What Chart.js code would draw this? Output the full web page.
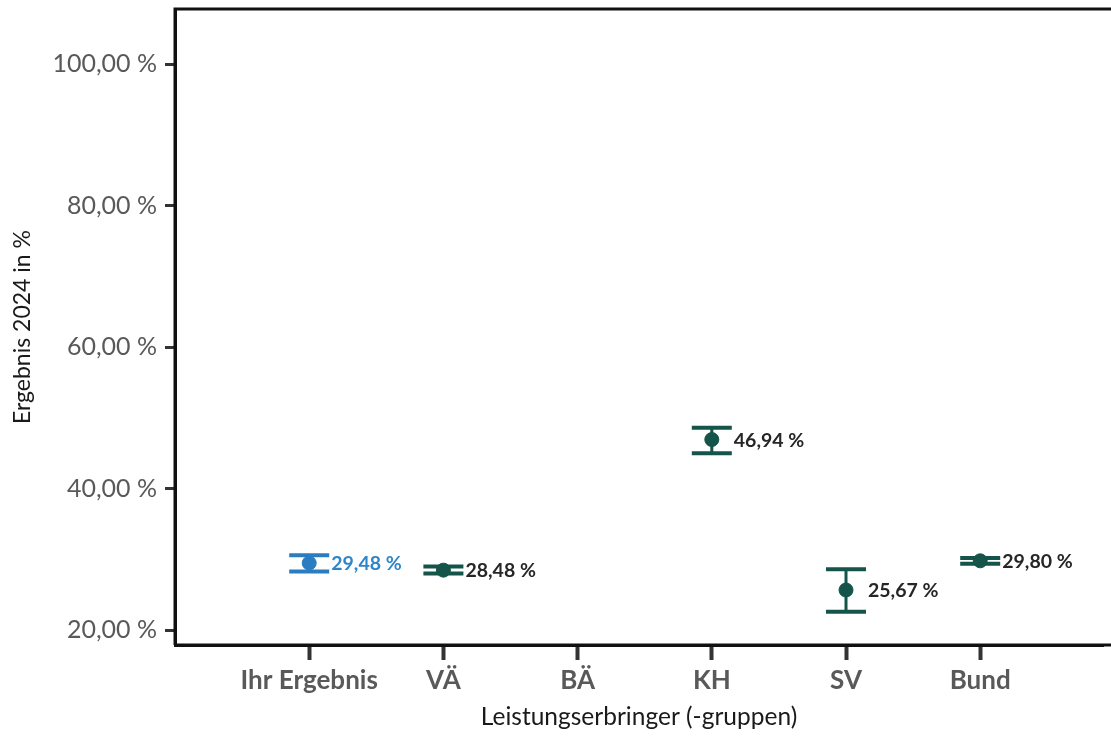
<!DOCTYPE html>
<html>
<head>
<meta charset="utf-8">
<script src="https://cdn.jsdelivr.net/npm/chart.js@4.4.1/dist/chart.umd.min.js"></script>
<style>
    html, body { margin: 0; padding: 0; background: #fff; overflow: hidden; }
    #wrap { width: 1111px; height: 737px; }
</style>
</head>
<body>
<div id="wrap"><canvas id="chart" width="1111" height="737"></canvas></div>
<script>
// Data
const categories = ['Ihr Ergebnis', 'VÄ', 'BÄ', 'KH', 'SV', 'Bund'];
const values = [29.48, 28.48, null, 46.94, 25.67, 29.80];
const lower = [28.3, 28.0, null, 45.0, 22.6, 29.4];
const upper = [30.6, 29.0, null, 48.6, 28.6, 30.2];
const yTicks = [20, 40, 60, 80, 100];

const blue = '#2a7dc0';
const green = '#14544a';
const pointColors = categories.map((c, i) => i === 0 ? blue : green);

// Points on a linear x scale, categories sit at 1..6
const points = values.map((v, i) => ({ x: i + 1, y: v }));

function fmt(v) {
    return v.toFixed(2).replace('.', ',') + ' %';
}

// Error bars (whisker + caps) and value labels, placed through the scales
const errorBars = {
    id: 'errorBars',
    beforeDatasetsDraw(chart) {
        const ctx = chart.ctx;
        const xs = chart.scales.x;
        const ys = chart.scales.y;
        ctx.save();
        values.forEach((v, i) => {
            if (v === null) return;
            const x = xs.getPixelForValue(i + 1);
            const yLo = ys.getPixelForValue(lower[i]);
            const yHi = ys.getPixelForValue(upper[i]);
            ctx.strokeStyle = pointColors[i];
            ctx.lineWidth = 3;
            ctx.beginPath();
            ctx.moveTo(x, yLo);
            ctx.lineTo(x, yHi);
            ctx.stroke();
            ctx.lineWidth = 4;
            ctx.beginPath();
            ctx.moveTo(x - 20, yLo); ctx.lineTo(x + 20, yLo);
            ctx.moveTo(x - 20, yHi); ctx.lineTo(x + 20, yHi);
            ctx.stroke();
        });
        ctx.restore();
    },
    afterDatasetsDraw(chart) {
        const ctx = chart.ctx;
        const xs = chart.scales.x;
        const ys = chart.scales.y;
        ctx.save();
        ctx.font = 'bold 19.5px Lato';
        ctx.textBaseline = 'middle';
        ctx.textAlign = 'left';
        values.forEach((v, i) => {
            if (v === null) return;
            ctx.fillStyle = i === 0 ? '#2e86c8' : '#262626';
            ctx.fillText(fmt(v), xs.getPixelForValue(i + 1) + 22, ys.getPixelForValue(v) + 1);
        });
        ctx.restore();
    }
};

// Frame: left, top and bottom lines running off the right edge
const frame = {
    id: 'frame',
    afterDraw(chart) {
        const a = chart.chartArea;
        const ctx = chart.ctx;
        ctx.save();
        ctx.strokeStyle = '#111';
        ctx.lineWidth = 3;
        ctx.beginPath();
        ctx.moveTo(a.left, a.bottom);
        ctx.lineTo(a.left, a.top);
        ctx.lineTo(chart.width, a.top);
        ctx.moveTo(a.left, a.bottom);
        ctx.lineTo(chart.width, a.bottom);
        ctx.stroke();
        ctx.restore();
    }
};

new Chart(document.getElementById('chart'), {
    type: 'scatter',
    data: {
        datasets: [{
            data: points,
            pointRadius: 7,
            pointHoverRadius: 7,
            pointBackgroundColor: pointColors,
            pointBorderColor: pointColors,
            showLine: false
        }]
    },
    options: {
        responsive: false,
        animation: false,
        layout: { padding: { top: 9, right: 0, bottom: 0, left: 0 } },
        plugins: {
            legend: { display: false },
            tooltip: { enabled: false }
        },
        scales: {
            x: {
                type: 'linear',
                min: 0,
                max: 6.915,
                afterBuildTicks: scale => {
                    scale.ticks = categories.map((c, i) => ({ value: i + 1 }));
                },
                afterFit: scale => {
                    scale.height = 92;
                    scale.paddingLeft = 0;
                    scale.paddingRight = 0;
                },
                ticks: {
                    autoSkip: false,
                    maxRotation: 0,
                    padding: 5,
                    color: '#595959',
                    font: { family: 'Lato', size: 26, weight: 'bold' },
                    callback: v => categories[v - 1] || ''
                },
                grid: {
                    drawOnChartArea: false,
                    drawTicks: true,
                    tickLength: 15,
                    tickWidth: 4,
                    tickColor: '#333'
                },
                border: { color: '#111', width: 3 },
                title: {
                    display: true,
                    text: 'Leistungserbringer (-gruppen)',
                    color: '#1a1a1a',
                    font: { family: 'Lato', size: 24.5 },
                    padding: { top: 0, bottom: 5 }
                }
            },
            y: {
                min: 17.9,
                max: 107.8,
                afterBuildTicks: scale => {
                    scale.ticks = yTicks.map(v => ({ value: v }));
                },
                afterFit: scale => {
                    scale.width = 175;
                    scale.paddingTop = 0;
                    scale.paddingBottom = 0;
                },
                ticks: {
                    padding: 8,
                    color: '#595959',
                    font: { family: 'Lato', size: 25 },
                    callback: v => v.toFixed(2).replace('.', ',') + ' %'
                },
                grid: {
                    drawOnChartArea: false,
                    drawTicks: true,
                    tickLength: 10,
                    tickWidth: 3,
                    tickColor: '#333'
                },
                border: { color: '#111', width: 3 },
                title: {
                    display: true,
                    text: 'Ergebnis 2024 in %',
                    color: '#1a1a1a',
                    font: { family: 'Lato', size: 23 },
                    padding: { top: 9, bottom: 0 }
                }
            }
        }
    },
    plugins: [errorBars, frame]
});
</script>
</body>
</html>
